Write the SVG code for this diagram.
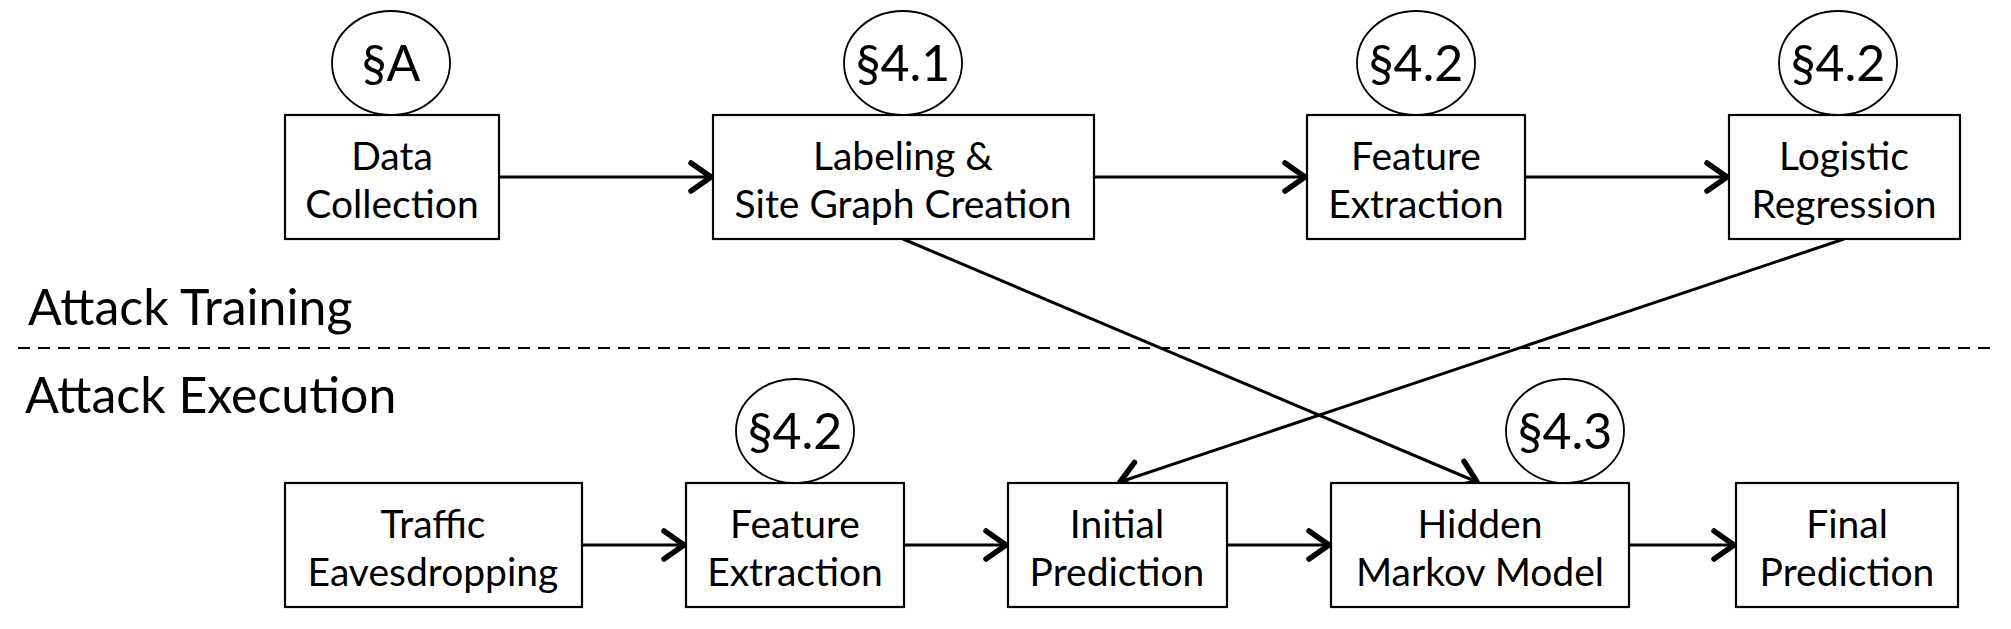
<svg xmlns="http://www.w3.org/2000/svg" width="2011" height="629" viewBox="0 0 2011 629">
<defs>
<style>
.box{fill:#fff;stroke:#000;stroke-width:2.2}
.ell{fill:#fff;stroke:#000;stroke-width:1.8}
.t{font-family:Lato,"Liberation Sans",sans-serif;font-size:39px;fill:#000;text-anchor:middle}
.s{font-family:Lato,"Liberation Sans",sans-serif;font-size:50px;fill:#000;text-anchor:middle}
.h{font-family:Lato,"Liberation Sans",sans-serif;font-size:50px;fill:#000}
.c{stroke:#000;stroke-width:3;fill:none;marker-end:url(#arr)}
</style>
<marker id="arr" markerUnits="userSpaceOnUse" markerWidth="34" markerHeight="38" refX="24" refY="17" orient="auto" viewBox="0 0 34 38">
<path d="M4,3 L24,17 L4,31" fill="none" stroke="#000" stroke-width="5.5" stroke-linejoin="round" stroke-linecap="round"/>
</marker>
</defs>
<rect width="2011" height="629" fill="#fff"/>

<g id="labels">
<text class="h" x="28" y="325">Attack Training</text>
<text class="h" x="25" y="413">Attack Execution</text>
<line x1="18" y1="348" x2="1996" y2="348" stroke="#000" stroke-width="2" stroke-dasharray="12,8"/>
</g>

<g id="connectors">
<line class="c" x1="499" y1="177" x2="711" y2="177"/>
<line class="c" x1="1094" y1="177" x2="1305" y2="177"/>
<line class="c" x1="1525" y1="177" x2="1727" y2="177"/>
<line class="c" x1="582" y1="545" x2="684" y2="545"/>
<line class="c" x1="904" y1="545" x2="1006" y2="545"/>
<line class="c" x1="1227" y1="545" x2="1329" y2="545"/>
<line class="c" x1="1629" y1="545" x2="1734" y2="545"/>
<line class="c" x1="903" y1="239" x2="1477" y2="482"/>
<line class="c" x1="1844" y1="239" x2="1120" y2="482"/>
</g>

<g id="n-data">
<rect class="box" x="285" y="115" width="214" height="124"/>
<text class="t" x="392" y="170">Data</text>
<text class="t" x="392" y="218">Collection</text>
<ellipse class="ell" cx="391" cy="63" rx="59" ry="52"/>
<text class="s" x="391" y="81">§A</text>
</g>

<g id="n-label">
<rect class="box" x="713" y="115" width="381" height="124"/>
<text class="t" x="903" y="170">Labeling &amp;</text>
<text class="t" x="903" y="218">Site Graph Creation</text>
<ellipse class="ell" cx="903" cy="63" rx="59" ry="52"/>
<text class="s" x="903" y="81">§4.1</text>
</g>

<g id="n-feat1">
<rect class="box" x="1307" y="115" width="218" height="124"/>
<text class="t" x="1416" y="170">Feature</text>
<text class="t" x="1416" y="218">Extraction</text>
<ellipse class="ell" cx="1416" cy="63" rx="59" ry="52"/>
<text class="s" x="1416" y="81">§4.2</text>
</g>

<g id="n-logreg">
<rect class="box" x="1729" y="115" width="231" height="124"/>
<text class="t" x="1844" y="170">Logistic</text>
<text class="t" x="1844" y="218">Regression</text>
<ellipse class="ell" cx="1838" cy="63" rx="59" ry="52"/>
<text class="s" x="1838" y="81">§4.2</text>
</g>

<g id="n-traffic">
<rect class="box" x="285" y="483" width="297" height="124"/>
<text class="t" x="433" y="538">Traffic</text>
<text class="t" x="433" y="586">Eavesdropping</text>
</g>

<g id="n-feat2">
<rect class="box" x="686" y="483" width="218" height="124"/>
<text class="t" x="795" y="538">Feature</text>
<text class="t" x="795" y="586">Extraction</text>
<ellipse class="ell" cx="795" cy="431" rx="59" ry="52"/>
<text class="s" x="795" y="449">§4.2</text>
</g>

<g id="n-initial">
<rect class="box" x="1008" y="483" width="219" height="124"/>
<text class="t" x="1117" y="538">Initial</text>
<text class="t" x="1117" y="586">Prediction</text>
</g>

<g id="n-hmm">
<rect class="box" x="1331" y="483" width="298" height="124"/>
<text class="t" x="1480" y="538">Hidden</text>
<text class="t" x="1480" y="586">Markov Model</text>
<ellipse class="ell" cx="1565" cy="431" rx="59" ry="52"/>
<text class="s" x="1565" y="449">§4.3</text>
</g>

<g id="n-final">
<rect class="box" x="1736" y="483" width="222" height="124"/>
<text class="t" x="1847" y="538">Final</text>
<text class="t" x="1847" y="586">Prediction</text>
</g>
</svg>
